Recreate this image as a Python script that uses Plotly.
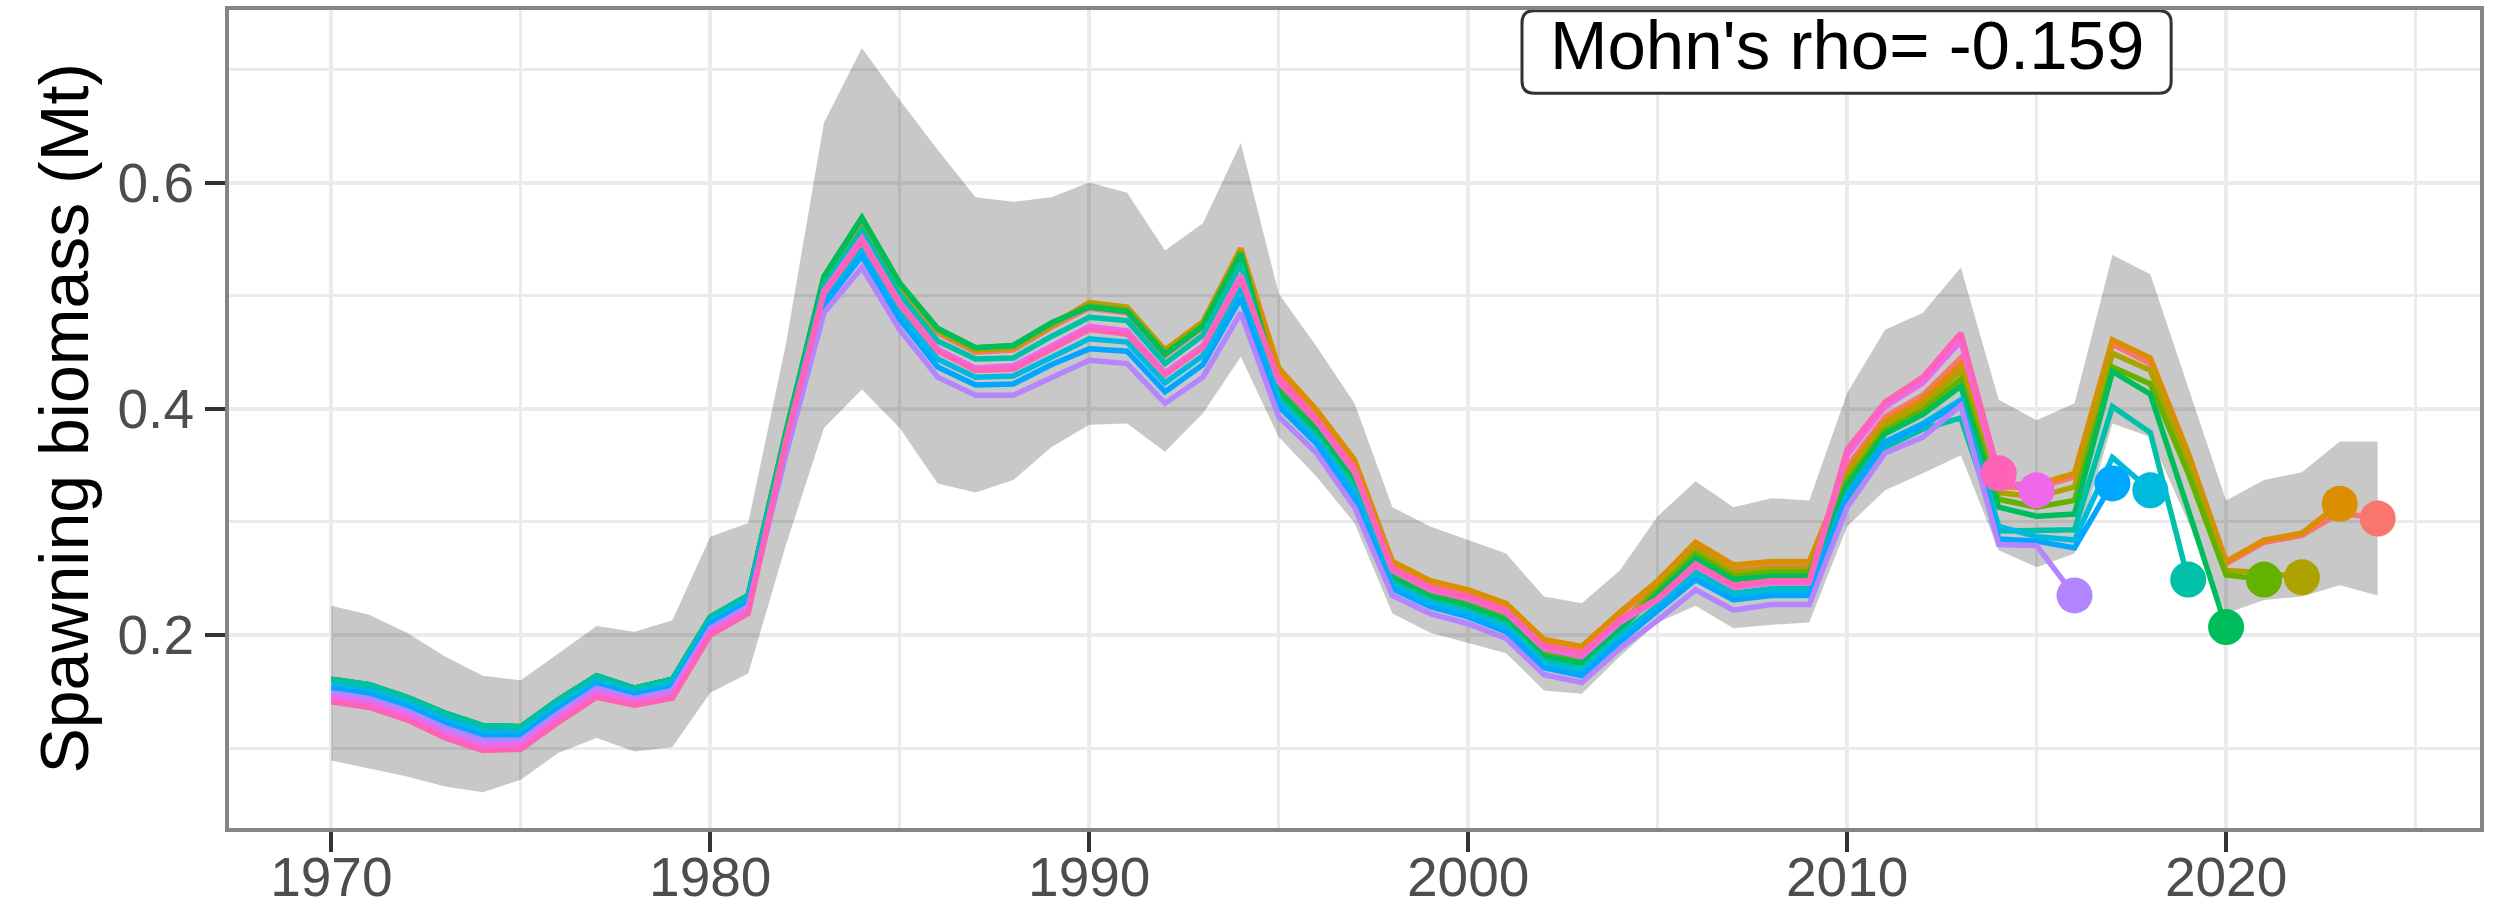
import plotly.graph_objects as go

years = list(range(1970, 2025))

# 95% interval of the full (2024) run
ribbon_upper = [0.226, 0.218, 0.202, 0.181, 0.164, 0.160, 0.184, 0.208, 0.203, 0.213, 0.287, 0.299,
                0.458, 0.653, 0.719, 0.673, 0.629, 0.587, 0.583, 0.587, 0.600, 0.591, 0.540, 0.564, 0.635,
                0.502, 0.455, 0.405, 0.313, 0.296, 0.284, 0.272, 0.234, 0.228, 0.257,
                0.305, 0.336, 0.313, 0.321, 0.319,
                0.414, 0.470, 0.485, 0.525,
                0.408, 0.390, 0.405, 0.536, 0.519, 0.419, 0.319, 0.337, 0.344, 0.371, 0.371]
ribbon_lower = [0.089, 0.082, 0.075, 0.066, 0.061, 0.072, 0.096, 0.109, 0.097, 0.101, 0.149, 0.166,
                0.280, 0.383, 0.417, 0.383, 0.334, 0.326, 0.337, 0.366, 0.386, 0.387, 0.362, 0.396, 0.446,
                0.375, 0.340, 0.299, 0.219, 0.202, 0.193, 0.184, 0.151, 0.148, 0.181,
                0.211, 0.226, 0.206, 0.209, 0.211,
                0.296, 0.328, 0.343, 0.359,
                0.275, 0.260, 0.272, 0.387, 0.375, 0.300, 0.219, 0.231, 0.234, 0.244, 0.235]

# spawning biomass of each retrospective peel, from 1970 to its terminal year
ssb_2024 = [0.160, 0.155, 0.144, 0.130, 0.119, 0.118, 0.142, 0.163, 0.152, 0.160, 0.215, 0.234,
            0.378, 0.514, 0.565, 0.507, 0.467, 0.450, 0.452, 0.472, 0.489, 0.485, 0.447, 0.472, 0.536,
            0.433, 0.397, 0.352, 0.263, 0.246, 0.238, 0.226, 0.194, 0.188, 0.218,
            0.246, 0.279, 0.260, 0.263, 0.263,
            0.349, 0.393, 0.412, 0.445,
            0.331, 0.330, 0.340, 0.457, 0.440, 0.358, 0.263, 0.282, 0.288, 0.308, 0.303]
ssb_2023 = [0.160, 0.155, 0.144, 0.130, 0.119, 0.118, 0.142, 0.163, 0.152, 0.160, 0.215, 0.234,
            0.379, 0.515, 0.567, 0.509, 0.469, 0.452, 0.454, 0.474, 0.494, 0.490, 0.452, 0.477, 0.542,
            0.436, 0.399, 0.355, 0.265, 0.248, 0.240, 0.228, 0.196, 0.190, 0.220,
            0.248, 0.282, 0.262, 0.265, 0.265,
            0.345, 0.389, 0.408, 0.439,
            0.333, 0.333, 0.343, 0.461, 0.445, 0.361, 0.265, 0.284, 0.290, 0.316]
ssb_2022 = [0.161, 0.156, 0.145, 0.131, 0.120, 0.119, 0.143, 0.164, 0.153, 0.161, 0.216, 0.235,
            0.379, 0.515, 0.567, 0.509, 0.469, 0.452, 0.454, 0.474, 0.493, 0.489, 0.451, 0.476, 0.540,
            0.421, 0.386, 0.340, 0.255, 0.238, 0.230, 0.217, 0.185, 0.179, 0.209,
            0.243, 0.276, 0.256, 0.259, 0.259,
            0.341, 0.386, 0.404, 0.433,
            0.326, 0.322, 0.331, 0.449, 0.434, 0.352, 0.257, 0.255, 0.251]
ssb_2021 = [0.161, 0.156, 0.145, 0.131, 0.120, 0.119, 0.143, 0.164, 0.153, 0.161, 0.216, 0.235,
            0.380, 0.517, 0.569, 0.511, 0.471, 0.454, 0.456, 0.476, 0.491, 0.487, 0.449, 0.474, 0.538,
            0.418, 0.383, 0.337, 0.252, 0.236, 0.227, 0.215, 0.183, 0.177, 0.207,
            0.239, 0.272, 0.252, 0.256, 0.256,
            0.336, 0.381, 0.399, 0.426,
            0.320, 0.313, 0.319, 0.437, 0.422, 0.343, 0.253, 0.249]
ssb_2020 = [0.161, 0.156, 0.145, 0.131, 0.120, 0.119, 0.143, 0.164, 0.153, 0.161, 0.216, 0.235,
            0.380, 0.517, 0.569, 0.511, 0.471, 0.454, 0.456, 0.476, 0.490, 0.486, 0.448, 0.473, 0.537,
            0.415, 0.381, 0.335, 0.251, 0.234, 0.226, 0.213, 0.181, 0.175, 0.205,
            0.236, 0.268, 0.249, 0.252, 0.252,
            0.332, 0.378, 0.395, 0.420,
            0.313, 0.305, 0.307, 0.433, 0.413, 0.311, 0.207]
ssb_2019 = [0.161, 0.156, 0.145, 0.131, 0.120, 0.119, 0.143, 0.164, 0.153, 0.161, 0.216, 0.235,
            0.375, 0.509, 0.558, 0.501, 0.460, 0.444, 0.445, 0.464, 0.481, 0.478, 0.440, 0.465, 0.528,
            0.409, 0.375, 0.329, 0.246, 0.230, 0.221, 0.209, 0.177, 0.170, 0.200,
            0.226, 0.256, 0.237, 0.241, 0.241,
            0.319, 0.366, 0.382, 0.392,
            0.292, 0.293, 0.293, 0.402, 0.379, 0.249]
ssb_2018 = [0.156, 0.151, 0.140, 0.126, 0.115, 0.114, 0.138, 0.159, 0.149, 0.157, 0.212, 0.231,
            0.368, 0.497, 0.542, 0.486, 0.444, 0.428, 0.429, 0.446, 0.462, 0.459, 0.423, 0.447, 0.507,
            0.406, 0.372, 0.326, 0.244, 0.228, 0.219, 0.206, 0.174, 0.168, 0.198,
            0.224, 0.253, 0.235, 0.239, 0.239,
            0.324, 0.371, 0.387, 0.408,
            0.296, 0.287, 0.284, 0.357, 0.328]
ssb_2017 = [0.153, 0.148, 0.137, 0.122, 0.111, 0.111, 0.135, 0.156, 0.147, 0.154, 0.210, 0.229,
            0.364, 0.492, 0.535, 0.479, 0.437, 0.421, 0.422, 0.439, 0.453, 0.451, 0.415, 0.439, 0.498,
            0.402, 0.369, 0.321, 0.241, 0.225, 0.216, 0.203, 0.171, 0.164, 0.194,
            0.221, 0.249, 0.231, 0.235, 0.235,
            0.323, 0.370, 0.385, 0.406,
            0.285, 0.283, 0.277, 0.334]
ssb_2016 = [0.149, 0.144, 0.133, 0.118, 0.107, 0.107, 0.131, 0.153, 0.144, 0.151, 0.206, 0.225,
            0.360, 0.485, 0.525, 0.470, 0.428, 0.412, 0.412, 0.428, 0.443, 0.440, 0.405, 0.428, 0.485,
            0.393, 0.361, 0.313, 0.235, 0.219, 0.210, 0.197, 0.165, 0.158, 0.188,
            0.213, 0.240, 0.222, 0.227, 0.227,
            0.313, 0.361, 0.375, 0.403,
            0.280, 0.279, 0.235]
ssb_2015 = [0.145, 0.140, 0.129, 0.113, 0.102, 0.103, 0.127, 0.149, 0.141, 0.147, 0.203, 0.222,
            0.372, 0.504, 0.551, 0.494, 0.453, 0.436, 0.438, 0.456, 0.473, 0.469, 0.432, 0.456, 0.518,
            0.424, 0.389, 0.344, 0.257, 0.240, 0.232, 0.220, 0.188, 0.181, 0.211,
            0.231, 0.261, 0.242, 0.246, 0.246,
            0.359, 0.402, 0.423, 0.460,
            0.337, 0.328]
ssb_2014 = [0.141, 0.136, 0.125, 0.109, 0.098, 0.099, 0.123, 0.145, 0.138, 0.144, 0.200, 0.219,
            0.371, 0.502, 0.548, 0.492, 0.451, 0.434, 0.435, 0.453, 0.470, 0.466, 0.430, 0.454, 0.515,
            0.427, 0.391, 0.347, 0.259, 0.242, 0.234, 0.222, 0.190, 0.184, 0.214,
            0.232, 0.263, 0.244, 0.248, 0.248,
            0.364, 0.406, 0.428, 0.467,
            0.343]

peels = [ssb_2024, ssb_2023, ssb_2022, ssb_2021, ssb_2020, ssb_2019,
         ssb_2018, ssb_2017, ssb_2016, ssb_2015, ssb_2014]
peel_names = ["2024", "2023", "2022", "2021", "2020", "2019",
              "2018", "2017", "2016", "2015", "2014"]
peel_colors = ["#F8766D", "#DB8E00", "#AEA200", "#64B200", "#00BD5C", "#00C1A7",
               "#00BADE", "#00A6FF", "#B385FF", "#EF67EB", "#FF63B6"]

mohn_rho = -0.159

FONT = "Liberation Sans, Arial, Helvetica, sans-serif"

fig = go.Figure()

fig.add_trace(go.Scatter(x=years, y=ribbon_lower, mode="lines", line=dict(width=0),
                         hoverinfo="skip", showlegend=False))
fig.add_trace(go.Scatter(x=years, y=ribbon_upper, mode="lines", line=dict(width=0),
                         fill="tonexty", fillcolor="rgba(0,0,0,0.215)",
                         hoverinfo="skip", showlegend=False))

for vals, name, col in zip(peels, peel_names, peel_colors):
    fig.add_trace(go.Scatter(x=years[:len(vals)], y=vals, mode="lines", name=name,
                             line=dict(color=col, width=5.5), showlegend=False))

for vals, name, col in zip(peels, peel_names, peel_colors):
    fig.add_trace(go.Scatter(x=[years[len(vals) - 1]], y=[vals[-1]], mode="markers", name=name,
                             marker=dict(color=col, size=36, line=dict(width=0)), showlegend=False))

# rounded box behind the Mohn's rho label
bx0, bx1, by0, by1 = 2001.42, 2018.55, 0.679, 0.752
rx, ry = 0.32, 0.0106
box_path = (f"M {bx0 + rx},{by0} L {bx1 - rx},{by0} Q {bx1},{by0} {bx1},{by0 + ry} "
            f"L {bx1},{by1 - ry} Q {bx1},{by1} {bx1 - rx},{by1} "
            f"L {bx0 + rx},{by1} Q {bx0},{by1} {bx0},{by1 - ry} "
            f"L {bx0},{by0 + ry} Q {bx0},{by0} {bx0 + rx},{by0} Z")
fig.add_shape(type="path", path=box_path, xref="x", yref="y",
              line=dict(color="#333333", width=3), fillcolor="white", layer="above")

fig.add_annotation(x=2010, y=0.7215, xref="x", yref="y", text=f"Mohn's rho= {mohn_rho}",
                   showarrow=False, font=dict(family=FONT, size=69, color="black"),
                   xanchor="center", yanchor="middle")

fig.add_annotation(x=-0.0735, y=0.5, xref="paper", yref="paper", text="Spawning biomass (Mt)",
                   textangle=-90, showarrow=False, font=dict(family=FONT, size=68, color="black"),
                   xanchor="center", yanchor="middle")

axis_common = dict(
    showline=True, mirror=True, linecolor="#858585", linewidth=4,
    ticks="outside", ticklen=20, tickwidth=4, tickcolor="#333333",
    tickfont=dict(family=FONT, size=55, color="#4D4D4D"),
    showgrid=True, gridcolor="#EBEBEB", gridwidth=4, zeroline=False,
    automargin=False,
)

fig.update_xaxes(range=[1967.3, 2026.7], tick0=1970, dtick=10,
                 minor=dict(tick0=1975, dtick=10, showgrid=True, gridcolor="#EBEBEB", gridwidth=3),
                 ticklabelstandoff=-22, **axis_common)
fig.update_yaxes(range=[0.0294, 0.7526], tickvals=[0.2, 0.4, 0.6], ticktext=["0.2", "0.4", "0.6"],
                 minor=dict(tickvals=[0.1, 0.3, 0.5, 0.7], showgrid=True, gridcolor="#EBEBEB", gridwidth=3),
                 ticklabelstandoff=0, **axis_common)

fig.update_layout(
    width=2496, height=908,
    margin=dict(l=229, r=16, t=10, b=80, pad=0),
    plot_bgcolor="white", paper_bgcolor="white",
    showlegend=False,
    font=dict(family=FONT),
)

fig.write_html("out.html", config={"displayModeBar": False},
               post_script="document.body.style.margin='0';")
